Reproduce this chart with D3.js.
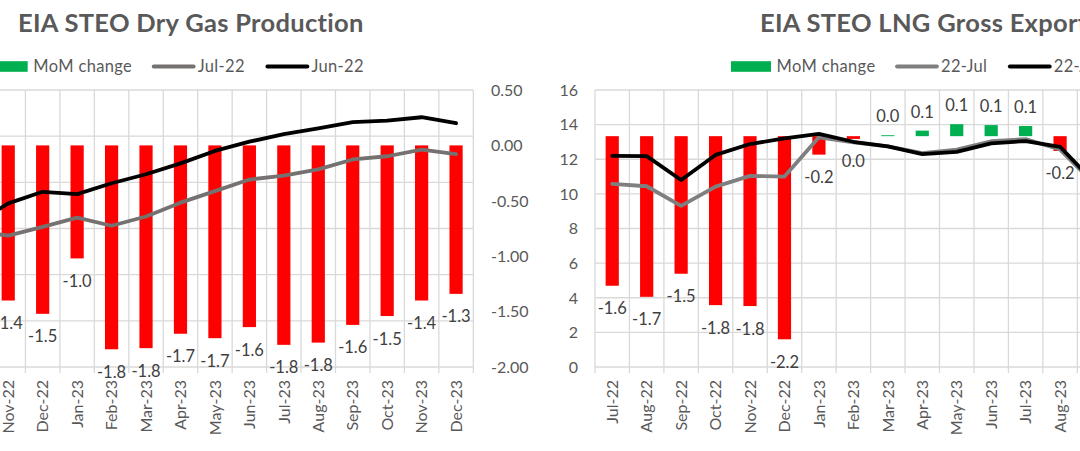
<!DOCTYPE html>
<html>
<head>
<meta charset="utf-8">
<script src="https://cdn.jsdelivr.net/npm/d3@7"></script>
<style>
  html, body { margin: 0; padding: 0; background: #fff; overflow: hidden; }
  svg { display: block; font-family: Lato, "Open Sans", sans-serif; }
</style>
</head>
<body>
<svg id="chart" width="1080" height="451"></svg>
<script>
// ---------------- DATA ----------------
// Left chart: EIA STEO Dry Gas Production (bcf/d)
const catsL = ["Oct-22","Nov-22","Dec-22","Jan-23","Feb-23","Mar-23","Apr-23","May-23","Jun-23","Jul-23","Aug-23","Sep-23","Oct-23","Nov-23","Dec-23"];
const junL  = [98.15, 99.09, 99.59, 99.49, 99.96, 100.35, 100.82, 101.36, 101.76, 102.09, 102.34, 102.61, 102.67, 102.82, 102.56];
const julL  = [97.90, 97.69, 98.07, 98.47, 98.12, 98.52, 99.12, 99.62, 100.12, 100.29, 100.56, 100.99, 101.13, 101.42, 101.22];
const momL  = [-0.25, -1.40, -1.52, -1.02, -1.84, -1.83, -1.70, -1.74, -1.64, -1.80, -1.78, -1.62, -1.54, -1.40, -1.34];
const ticksL2 = [-2.0, -1.5, -1.0, -0.5, 0.0, 0.5];          // right axis (MoM change)
const ticksL1 = [92, 94, 96, 98, 100, 102, 104];              // hidden primary axis (gridlines)

// Right chart: EIA STEO LNG Gross Exports (bcf/d)
const catsR = ["Jul-22","Aug-22","Sep-22","Oct-22","Nov-22","Dec-22","Jan-23","Feb-23","Mar-23","Apr-23","May-23","Jun-23","Jul-23","Aug-23","Sep-23"];
const junR  = [12.20, 12.18, 10.80, 12.25, 12.88, 13.20, 13.47, 13.01, 12.74, 12.30, 12.43, 12.92, 13.05, 12.72, 10.66];
const julR  = [10.58, 10.44,  9.31, 10.42, 11.04, 11.00, 13.27, 12.98, 12.75, 12.36, 12.56, 13.04, 13.16, 12.56, 10.56];
const momR  = [-1.62, -1.74, -1.49, -1.83, -1.84, -2.20, -0.20, -0.03, 0.01, 0.06, 0.13, 0.12, 0.11, -0.16, -0.10];
const ticksR1 = [0, 2, 4, 6, 8, 10, 12, 14, 16];

const titleL = "EIA STEO Dry Gas Production";
const titleR = "EIA STEO LNG Gross Exports";
const legendL = ["MoM change", "Jul-22", "Jun-22"];
const legendR = ["MoM change", "22-Jul", "22-Jun"];

// ---------------- STYLE ----------------
const C = {
  red: "#FF0000", green: "#00B050", black: "#000000",
  grayL: "#767171", grayR: "#7F7F7F",
  grid: "#D9D9D9", axisText: "#595959", labelText: "#404040", title: "#595959"
};
const FS = 16;
const svg = d3.select("#chart");
svg.append("rect").attr("width", 1080).attr("height", 451).attr("fill", "#fff");

const plotTop = 90, plotBottom = 367;
const step = 34.45;

function fmt1(v) {
  const r = Math.round(v * 10) / 10;
  return (r === 0 ? 0 : r).toFixed(1);
}

function drawChart(o) {
  const g = svg.append("g");
  const x = d3.scaleBand().domain(o.cats).range(o.xRange).paddingInner(0).paddingOuter(0);
  const bw = x.bandwidth();
  const barW = 13.2;
  const cx = d => x(d) + bw / 2;

  // horizontal gridlines (primary axis)
  g.append("g").selectAll("line").data(o.gridTicks).join("line")
    .attr("x1", o.xRange[0]).attr("x2", o.xRange[1])
    .attr("y1", d => o.yPrim(d)).attr("y2", d => o.yPrim(d))
    .attr("stroke", C.grid).attr("stroke-width", 1.3);
  // vertical gridlines at category boundaries + tick marks
  const bounds = d3.range(o.cats.length + 1).map(i => o.xRange[0] + i * bw);
  g.append("g").selectAll("line").data(bounds).join("line")
    .attr("x1", d => d).attr("x2", d => d)
    .attr("y1", plotTop).attr("y2", plotBottom + 6)
    .attr("stroke", C.grid).attr("stroke-width", 1.3);

  // bars (secondary axis)
  const idx = d3.range(o.cats.length);
  g.append("g").selectAll("rect").data(idx).join("rect")
    .attr("x", i => cx(o.cats[i]) - barW / 2)
    .attr("width", barW)
    .attr("y", i => Math.min(o.ySec(0), o.ySec(o.mom[i])))
    .attr("height", i => Math.abs(o.ySec(o.mom[i]) - o.ySec(0)))
    .attr("fill", i => o.mom[i] < 0 ? C.red : C.green);

  // lines (primary axis)
  const line = d3.line().x((d, i) => cx(o.cats[i])).y(d => o.yPrim(d));
  g.append("path").datum(o.jul).attr("d", line)
    .attr("fill", "none").attr("stroke", o.grayColor).attr("stroke-width", 3.8)
    .attr("stroke-linejoin", "round").attr("stroke-linecap", "round");
  g.append("path").datum(o.jun).attr("d", line)
    .attr("fill", "none").attr("stroke", C.black).attr("stroke-width", 3.8)
    .attr("stroke-linejoin", "round").attr("stroke-linecap", "round");

  // data labels
  g.append("g").selectAll("text").data(idx).join("text")
    .attr("x", i => cx(o.cats[i]))
    .attr("y", i => o.mom[i] < 0 ? o.ySec(o.mom[i]) + 28.5 : o.ySec(o.mom[i]) - 13)
    .attr("text-anchor", "middle")
    .attr("font-size", 16.5).attr("fill", C.labelText)
    .text(i => fmt1(o.mom[i]));

  // category labels (rotated)
  g.append("g").selectAll("text").data(o.cats).join("text")
    .attr("transform", d => `translate(${cx(d)},${plotBottom + 13}) rotate(-90)`)
    .attr("text-anchor", "end").attr("dy", "0.36em")
    .attr("font-size", FS).attr("fill", C.axisText)
    .text(d => d);

  // value axis labels
  g.append("g").selectAll("text").data(o.axisTicks).join("text")
    .attr("x", o.axisX).attr("y", d => o.axisScale(d))
    .attr("dy", "0.36em").attr("text-anchor", o.axisAnchor)
    .attr("font-size", FS).attr("fill", C.axisText)
    .text(d => o.axisFmt(d));

  // title
  g.append("text").attr("x", o.titleX).attr("y", 31.5)
    .attr("font-size", 25.5).attr("font-weight", 700).attr("letter-spacing", 0.3)
    .attr("fill", C.title)
    .text(o.title);

  // legend
  let lx = o.legendX;
  const ly = 66.5;
  const lg = g.append("g");
  lg.append("rect").attr("x", lx).attr("y", ly - 5.3).attr("width", 40).attr("height", 10.6).attr("fill", C.green);
  lx += 45.6;
  let t = lg.append("text").attr("x", lx).attr("y", ly).attr("dy", "0.36em")
    .attr("font-size", 16.5).attr("letter-spacing", 0.35).attr("fill", C.axisText).text(o.legend[0]);
  lx += t.node().getComputedTextLength() + 20.5;
  [[o.grayColor, o.legend[1]], [C.black, o.legend[2]]].forEach(([col, lab]) => {
    lg.append("line").attr("x1", lx + 1).attr("x2", lx + 41).attr("y1", ly).attr("y2", ly)
      .attr("stroke", col).attr("stroke-width", 3.8).attr("stroke-linecap", "round");
    lx += 45;
    const tt = lg.append("text").attr("x", lx).attr("y", ly).attr("dy", "0.36em")
      .attr("font-size", 16.5).attr("letter-spacing", 0.35).attr("fill", C.axisText).text(lab);
    lx += tt.node().getComputedTextLength() + 21.5;
  });
}

// ---------------- LEFT CHART ----------------
const plotRightL = 473.3;
const yL1 = d3.scaleLinear().domain([92, 104]).range([plotBottom, plotTop]);
const yL2 = d3.scaleLinear().domain([-2, 0.5]).range([plotBottom, plotTop]);
drawChart({
  cats: catsL, jun: junL, jul: julL, mom: momL,
  xRange: [plotRightL - catsL.length * step, plotRightL],
  yPrim: yL1, ySec: yL2, gridTicks: ticksL1,
  axisTicks: ticksL2, axisScale: yL2, axisX: 491, axisAnchor: "start",
  axisFmt: d => d.toFixed(2).replace("\u2212", "-"),
  grayColor: C.grayL, title: titleL, titleX: 18, legend: legendL, legendX: -12.3
});

// ---------------- RIGHT CHART ----------------
const plotLeftR = 595;
const yR1 = d3.scaleLinear().domain([0, 16]).range([plotBottom, plotTop]);
const yR2 = d3.scaleLinear().domain([-2.5, 0.5]).range([plotBottom, plotTop]);
drawChart({
  cats: catsR, jun: junR, jul: julR, mom: momR,
  xRange: [plotLeftR, plotLeftR + catsR.length * step],
  yPrim: yR1, ySec: yR2, gridTicks: ticksR1,
  axisTicks: ticksR1, axisScale: yR1, axisX: 578, axisAnchor: "end",
  axisFmt: d => String(d),
  grayColor: C.grayR, title: titleR, titleX: 760, legend: legendR, legendX: 731
});
</script>
</body>
</html>
